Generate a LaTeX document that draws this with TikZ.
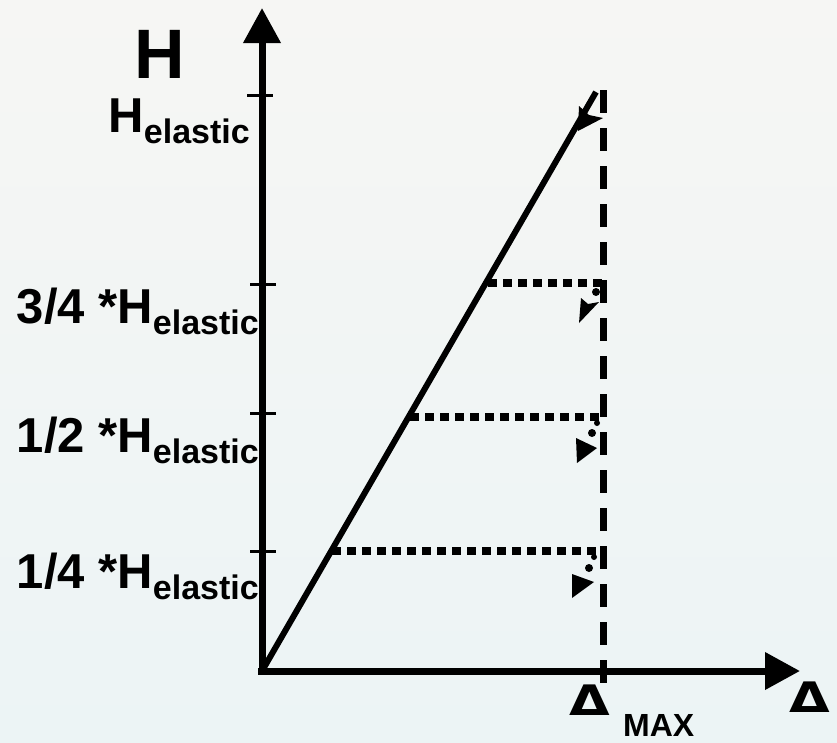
\documentclass[tikz,border=0pt]{standalone}
\usepackage{fontspec}
\setmainfont{Liberation Sans}
\newfontfamily\dvbold{DejaVu Sans Bold}
\usetikzlibrary{arrows.meta}
\definecolor{bgtop}{RGB}{246,246,244}
\definecolor{bgbot}{RGB}{236,244,245}
\newcommand\Hel{H\raisebox{-11pt}{\fontsize{34}{34}\selectfont elastic}}
\begin{document}
\begin{tikzpicture}[x=1pt,y=-1pt,
  axis/.style={line width=7pt,-{Triangle[length=35pt,width=36pt]}},
  tickline/.style={line width=3pt},
  lbl/.style={font=\bfseries\fontsize{49}{49}\selectfont,inner sep=0pt,anchor=base east},
  dotline/.style={line width=8pt,dash pattern=on 9pt off 6pt},
  dashline/.style={line width=7pt,dash pattern=on 23pt off 15pt},
  delta/.style={font=\dvbold\fontsize{42}{42}\selectfont,inner sep=0pt,anchor=base,xscale=1.25}
]
\useasboundingbox (0,0) rectangle (837,742);
\shade[top color=bgtop,bottom color=bgbot] (0,0) rectangle (837,742);

% coordinates
\coordinate (O) at (262,671);
\coordinate (Ytop) at (262,8);
\coordinate (Xend) at (800,671);
\coordinate (P) at (596,92);
\coordinate (Vtop) at (603,90);
\coordinate (Vbot) at (603,685);
\coordinate (A3) at (488,283);
\coordinate (B3) at (603,283);
\coordinate (A2) at (410,417);
\coordinate (B2) at (603,417);
\coordinate (A1) at (332,551);
\coordinate (B1) at (603,551);

% axes
\draw[axis] (262,674) -- (Ytop);
\draw[axis] (258,671) -- (Xend);

% ticks
\draw[tickline] (247,95) -- (273,95);
\draw[tickline] (250,284) -- (276,284);
\draw[tickline] (250,413) -- (276,413);
\draw[tickline] (250,551) -- (276,551);

% dashed vertical
\draw[dashline] (Vtop) -- (Vbot);

% diagonal
\draw[line width=6pt] (O) -- (P);
\fill (578,131) -- (579,106) -- (589,115) -- (603,118) -- cycle;

% dotted horizontals
\draw[dotline] (A3) -- (B3);
\draw[dotline] (A2) -- (B2);
\draw[dotline] (A1) -- (B1);

% small arrows
\fill (596,292) circle (4pt);
\fill (579,323) -- (581,298) -- (588,304) -- (599,302) -- cycle;
\fill (592,433) circle (4pt);
\fill (597,423) circle (3pt);
\fill (576,438) -- (577,463) -- (597,448) -- cycle;
\fill (589,568) circle (4pt);
\fill (594,557) circle (3pt);
\fill (572,574) -- (572,598) -- (594,582) -- cycle;

% labels
\node[font=\bfseries\fontsize{70}{70}\selectfont,inner sep=0pt,anchor=base] (Hlab) at (160,78) {H};
\node[lbl] (L4) at (250,132) {\Hel};
\node[lbl] (L3) at (259,323) {3/4 *\Hel};
\node[lbl] (L2) at (259,452) {1/2 *\Hel};
\node[lbl] (L1) at (259,588) {1/4 *\Hel};
\node[delta] (D1) at (590,715) {Δ};
\node[delta] (D2) at (810,712) {Δ};
\node[font=\bfseries\fontsize{32}{32}\selectfont,inner sep=0pt,anchor=base west] (MAX) at (623,736) {MAX};
\end{tikzpicture}
\end{document}
